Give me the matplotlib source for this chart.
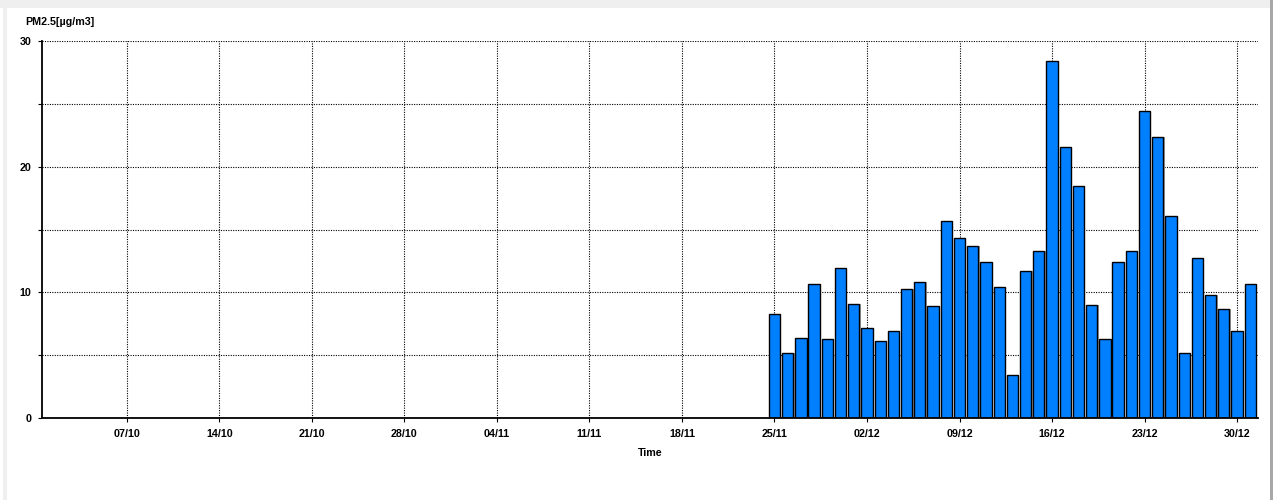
import datetime as dt
import matplotlib
matplotlib.use("Agg")
import matplotlib.pyplot as plt
import matplotlib.dates as mdates
from matplotlib.patches import Rectangle

# daily PM2.5 means, 25/11 .. 31/12
start_day = dt.datetime(2019, 11, 25)
pm25 = [8.3, 5.2, 6.4, 10.7, 6.3, 11.9, 9.1, 7.2, 6.1, 6.9,
        10.3, 10.8, 8.9, 15.7, 14.3, 13.7, 12.4, 10.4, 3.4, 11.7,
        13.3, 28.4, 21.6, 18.5, 9.0, 6.3, 12.4, 13.3, 24.4, 22.4,
        16.1, 5.2, 12.7, 9.8, 8.7, 6.9, 10.7]
days = [start_day + dt.timedelta(days=i) for i in range(len(pm25))]

x_start = dt.datetime(2019, 9, 30, 14)
x_end = dt.datetime(2019, 12, 31, 14)
first_tick = dt.datetime(2019, 10, 7)

plt.rcParams['font.family'] = ['Liberation Sans', 'DejaVu Sans']

fig = plt.figure(figsize=(12.73, 5.0), dpi=100)
fig.patch.set_facecolor('white')

# light frame around the panel
fig.patches.append(Rectangle((3 / 1273, 0), 4 / 1273, 1, transform=fig.transFigure,
                             facecolor='#efefef', edgecolor='none'))
fig.patches.append(Rectangle((0, 1 - 8 / 500), 1, 8 / 500, transform=fig.transFigure,
                             facecolor='#efefef', edgecolor='none'))
fig.patches.append(Rectangle((1270 / 1273, 0), 3 / 1273, 1, transform=fig.transFigure,
                             facecolor='#a8a8a8', edgecolor='none'))

ax = fig.add_axes([42 / 1273, 82 / 500, 1216 / 1273, 377 / 500])

xs = mdates.date2num(days)
width = 0.85
# soft shadow behind each bar
ax.bar(xs + 0.1, pm25, width=width, color='#a0a0a0', edgecolor='none', zorder=2)
ax.bar(xs, pm25, width=width, color='#0080ff', edgecolor='black', linewidth=1.0, zorder=3)

ax.set_xlim(mdates.date2num(x_start), mdates.date2num(x_end))
ax.set_ylim(0, 30)

ticks = [first_tick + dt.timedelta(days=7 * i) for i in range(13)]
ax.set_xticks(mdates.date2num(ticks))
ax.xaxis.set_major_formatter(mdates.DateFormatter('%d/%m'))

ax.set_yticks([0, 10, 20, 30])
ax.set_yticks([5, 15, 25], minor=True)

ax.grid(True, which='both', color='black', linestyle=(0, (1, 1.2)), linewidth=0.8, zorder=1)
ax.set_axisbelow(True)

for side in ('top', 'right'):
    ax.spines[side].set_visible(False)
for side in ('left', 'bottom'):
    ax.spines[side].set_linewidth(1.3)
    ax.spines[side].set_zorder(4)

ax.tick_params(axis='both', which='both', direction='out', length=3, width=0.8,
               labelsize=7.7)
ax.tick_params(axis='x', pad=5)
ax.tick_params(axis='y', pad=4.5)
for lab in ax.get_xticklabels() + ax.get_yticklabels():
    lab.set_fontweight('bold')

fig.text(25 / 1273, 1 - 22 / 500, 'PM2.5[µg/m3]', fontsize=7.7, fontweight='bold',
         ha='left', va='center')
fig.text(650 / 1273, 1 - 453 / 500, 'Time', fontsize=7.7, fontweight='bold',
         ha='center', va='center')

fig.savefig('out.png', dpi=100)
